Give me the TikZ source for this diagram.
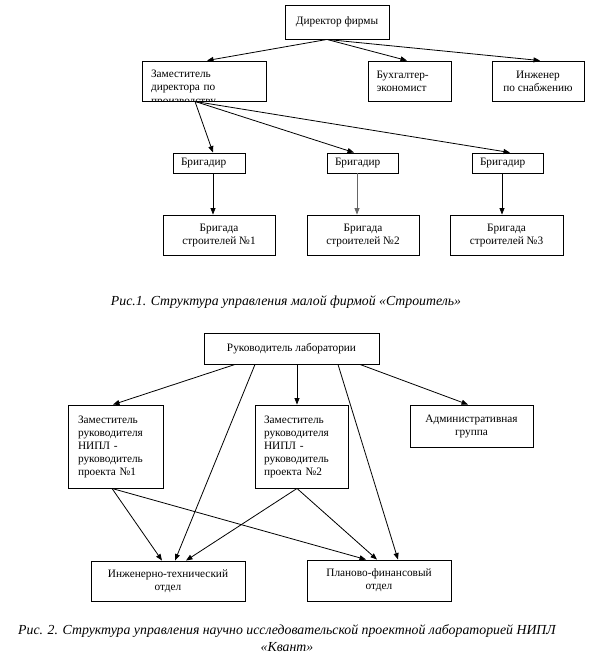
\documentclass[tikz,border=0pt]{standalone}
\usepackage{fontspec}
\setmainfont{Liberation Serif}
\usetikzlibrary{arrows.meta}
\newcommand\boxfont{\fontsize{11.3}{13}\selectfont}
\newcommand\capfont{\fontsize{13.8}{17}\selectfont\itshape}
\begin{document}
\begin{tikzpicture}[x=1pt,y=-1pt,
  box/.style={draw, line width=0.9pt, inner ysep=0pt, inner xsep=0pt, font=\boxfont, align=center},
  lbox/.style={box, align=left, text width=#1},
  arr/.style={-{Triangle[length=6.5pt,width=5pt]}, line width=0.8pt},
  capstyle/.style={font=\capfont, align=center, inner sep=0pt}
]
\useasboundingbox (0,0) rectangle (595,665);
% ---------- Figure 1 ----------
\node[box, minimum width=104pt, minimum height=34pt] (dir) at (337,22) {Директор фирмы};
\node[lbox=106pt, minimum width=124pt, minimum height=40pt, inner xsep=9pt] (zam) at (204,81) {Заместитель\\директора по};
\begin{scope}
  \clip (142,61) rectangle (266,100.3);
  \node[font=\boxfont, anchor=base west, inner sep=0pt] (zamcut) at (151,104.5) {производству};
\end{scope}
\node[lbox=66pt, minimum width=83pt, minimum height=40pt, inner xsep=8.5pt] (buh) at (409.5,81) {Бухгалтер-\\экономист};
\node[box, minimum width=92pt, minimum height=40pt] (inzh) at (538,81) {Инженер\\по снабжению};
\node[lbox=56pt, minimum width=72pt, minimum height=20pt, inner xsep=8pt] (br1) at (209,163) {Бригадир};
\node[lbox=55pt, minimum width=71pt, minimum height=20pt, inner xsep=8pt] (br2) at (362.5,163) {Бригадир};
\node[lbox=55pt, minimum width=71pt, minimum height=20pt, inner xsep=8pt] (br3) at (507.5,163) {Бригадир};
\node[box, minimum width=112pt, minimum height=40pt] (bg1) at (219,235) {Бригада\\строителей №1};
\node[box, minimum width=112pt, minimum height=40pt] (bg2) at (363,235) {Бригада\\строителей №2};
\node[box, minimum width=113pt, minimum height=40pt] (bg3) at (506.5,235) {Бригада\\строителей №3};

\draw[arr] ([xshift=-10pt]dir.south) -- ([xshift=3pt]zam.north);
\draw[arr] ([xshift=-10pt]dir.south) -- ([xshift=-2.5pt]buh.north);
\draw[arr] ([xshift=-10pt]dir.south) -- ([xshift=2pt]inzh.north);
\draw[arr] ([xshift=-9pt]zam.south) -- ([xshift=4pt]br1.north);
\draw[arr] ([xshift=-9pt]zam.south) -- ([xshift=-8.5pt]br2.north);
\draw[arr] ([xshift=-9pt]zam.south) -- ([xshift=2.5pt]br3.north);
\draw[arr] ([xshift=4pt]br1.south) -- ([xshift=-6pt]bg1.north);
\draw[arr, draw=black!60] ([xshift=-5.5pt]br2.south) -- ([xshift=-6pt]bg2.north);
\draw[arr] ([xshift=-5.5pt]br3.south) -- ([xshift=-4.5pt]bg3.north);

\node[capstyle] (cap1) at (286,302) {Рис.1. Структура управления малой фирмой «Строитель»};

% ---------- Figure 2 ----------
\node[box, minimum width=175pt, minimum height=31pt] (ruk) at (291.5,348.5) {Руководитель лаборатории};
\node[lbox=75pt, minimum width=93pt, minimum height=83pt, inner xsep=10pt] (z1) at (115.5,446.5) {Заместитель\\руководителя\\НИПЛ -\\руководитель\\проекта №1};
\node[lbox=75pt, minimum width=93pt, minimum height=83pt, inner xsep=9pt] (z2) at (301.5,446.5) {Заместитель\\руководителя\\НИПЛ -\\руководитель\\проекта №2};
\node[box, minimum width=123pt, minimum height=42pt] (adm) at (471.5,426) {Административная\\группа};
\node[box, minimum width=154pt, minimum height=40pt] (ite) at (168,581) {Инженерно-технический\\отдел};
\node[box, minimum width=144pt, minimum height=41pt] (pf) at (379,580.5) {Планово-финансовый\\отдел};

\draw[arr] ([xshift=-56.5pt]ruk.south) -- ([xshift=-2.5pt]z1.north);
\draw[arr] ([xshift=-36.5pt]ruk.south) -- ([xshift=7pt]ite.north);
\draw[arr] ([xshift=5.5pt]ruk.south) -- ([xshift=-4.5pt]z2.north);
\draw[arr] ([xshift=46.5pt]ruk.south) -- ([xshift=19pt]pf.north);
\draw[arr] ([xshift=68.5pt]ruk.south) -- ([xshift=-3.5pt]adm.north);
\draw[arr] ([xshift=-3.5pt]z1.south) -- ([xshift=-6pt]ite.north);
\draw[arr] ([xshift=-3.5pt]z1.south) -- ([xshift=-13pt]pf.north);
\draw[arr] ([xshift=-4.5pt]z2.south) -- ([xshift=18pt]ite.north);
\draw[arr] ([xshift=-4.5pt]z2.south) -- ([xshift=-2pt]pf.north);

\node[capstyle] (cap2) at (287,638.5) {Рис. 2. Структура управления научно исследовательской проектной лабораторией НИПЛ\\«Квант»};
\end{tikzpicture}
\end{document}
